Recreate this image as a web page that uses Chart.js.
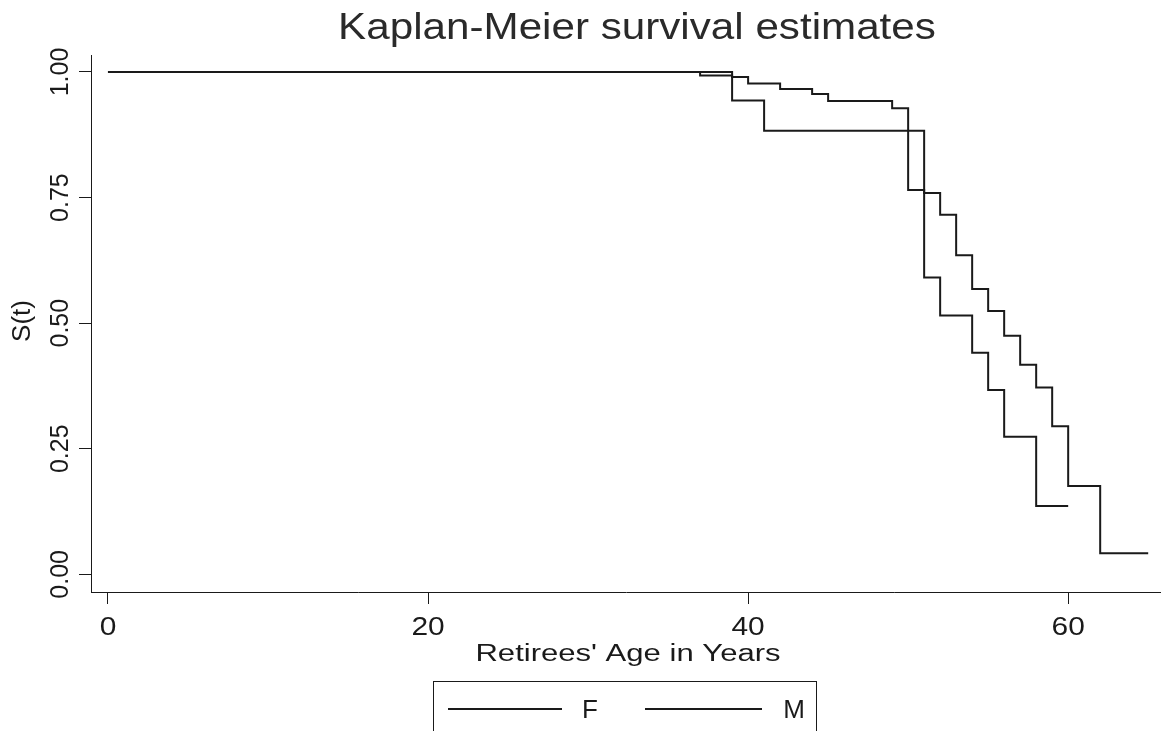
<!DOCTYPE html>
<html>
<head>
<meta charset="utf-8">
<title>Kaplan-Meier survival estimates</title>
<script src="https://cdn.jsdelivr.net/npm/chart.js@4.4.1/dist/chart.umd.min.js"></script>
<style>
  html, body { margin: 0; padding: 0; background: #fff; }
  #wrap { width: 1161px; height: 731px; }
</style>
</head>
<body>
<div id="wrap"><canvas id="kmChart" width="1161" height="731"></canvas></div>
<script>
// survival curves (age in years, S(t))
const maleAges = [0, 37, 39, 40, 42, 44, 45, 49, 50, 51, 52, 53, 54, 55, 56, 57, 58, 59, 60, 62, 65];
const maleSurv = [1, 0.993, 0.990, 0.977, 0.966, 0.956, 0.942, 0.928, 0.765, 0.759, 0.716, 0.635, 0.568, 0.524, 0.475, 0.417, 0.372, 0.295, 0.176, 0.042, 0.042];

const femaleAges = [0, 39, 41, 51, 52, 54, 55, 56, 58, 60];
const femaleSurv = [1, 0.943, 0.883, 0.591, 0.515, 0.441, 0.367, 0.274, 0.136, 0.136];

const xTicks = [0, 20, 40, 60];
const yTicks = [0, 0.25, 0.5, 0.75, 1];
const yTickLabels = ["0.00", "0.25", "0.50", "0.75", "1.00"];

const FONT = "'Liberation Sans', Arial, Helvetica, sans-serif";
const INK = "#1a1a1a";

function toPoints(xs, ys) {
  return xs.map((x, i) => ({ x: x, y: ys[i] }));
}

// the scanned original is a bit wide, so text gets a horizontal stretch
function wideText(ctx, text, x, y, px, sx) {
  ctx.save();
  ctx.font = px + "px " + FONT;
  ctx.translate(x, y);
  ctx.scale(sx, 1);
  ctx.fillText(text, 0, 0);
  ctx.restore();
}

// titles, rotated tick labels and boxed legend like the Stata output
const stataText = {
  id: "stataText",
  afterDraw(chart) {
    const ctx = chart.ctx;
    const xs = chart.scales.x;
    const ys = chart.scales.y;
    const area = chart.chartArea;
    ctx.save();
    ctx.textAlign = "center";
    ctx.textBaseline = "alphabetic";

    // title
    ctx.fillStyle = "#2a2a2a";
    wideText(ctx, "Kaplan-Meier survival estimates", 637, 39, 37, 1.14);
    ctx.fillStyle = INK;

    // x tick labels
    xTicks.forEach(v => {
      wideText(ctx, String(v), xs.getPixelForValue(v), 635, 26, 1.15);
    });

    // x title
    wideText(ctx, "Retirees' Age in Years", (area.left + area.right) / 2 + 2, 661, 23, 1.35);

    // y tick labels, reading bottom to top
    ctx.font = "25px " + FONT;
    yTicks.forEach((v, i) => {
      ctx.save();
      ctx.translate(68, ys.getPixelForValue(v));
      ctx.rotate(-Math.PI / 2);
      ctx.fillText(yTickLabels[i], 0, 0);
      ctx.restore();
    });

    // y title
    ctx.font = "26px " + FONT;
    ctx.save();
    ctx.translate(30, 321);
    ctx.rotate(-Math.PI / 2);
    ctx.fillText("S(t)", 0, 0);
    ctx.restore();

    // legend box
    ctx.strokeStyle = INK;
    ctx.lineWidth = 1;
    ctx.strokeRect(433.5, 681.5, 383, 70);
    const entries = [
      { x0: 448, x1: 562, tx: 590, label: chart.data.datasets[0].label },
      { x0: 645, x1: 762, tx: 794, label: chart.data.datasets[1].label }
    ];
    ctx.font = "26px " + FONT;
    entries.forEach(e => {
      ctx.beginPath();
      ctx.lineWidth = 2;
      ctx.moveTo(e.x0, 709);
      ctx.lineTo(e.x1, 709);
      ctx.stroke();
      ctx.fillText(e.label, e.tx, 718);
    });
    ctx.restore();
  }
};

const ctx = document.getElementById("kmChart").getContext("2d");

new Chart(ctx, {
  type: "line",
  data: {
    datasets: [
      {
        label: "F",
        data: toPoints(femaleAges, femaleSurv),
        borderColor: INK,
        borderWidth: 2,
        pointRadius: 0,
        stepped: "before",
        fill: false
      },
      {
        label: "M",
        data: toPoints(maleAges, maleSurv),
        borderColor: INK,
        borderWidth: 2,
        pointRadius: 0,
        stepped: "before",
        fill: false
      }
    ]
  },
  options: {
    responsive: false,
    animation: false,
    layout: { padding: { left: 0, right: 0, top: 55, bottom: 79 } },
    plugins: {
      legend: { display: false },
      title: { display: false },
      tooltip: { enabled: false }
    },
    scales: {
      x: {
        type: "linear",
        min: -1.06,
        max: 65.8,
        afterBuildTicks: s => { s.ticks = xTicks.map(v => ({ value: v })); },
        afterFit: s => { s.height = 60; },
        ticks: { display: false },
        grid: { drawOnChartArea: false, drawTicks: true, tickLength: 12, color: INK },
        border: { display: true, color: INK, width: 1 }
      },
      y: {
        type: "linear",
        min: -0.0352,
        max: 1.0338,
        afterBuildTicks: s => { s.ticks = yTicks.map(v => ({ value: v })); },
        afterFit: s => { s.width = 91; },
        ticks: { display: false },
        grid: { drawOnChartArea: false, drawTicks: true, tickLength: 12, color: INK },
        border: { display: true, color: INK, width: 1 }
      }
    }
  },
  plugins: [stataText]
});
</script>
</body>
</html>
